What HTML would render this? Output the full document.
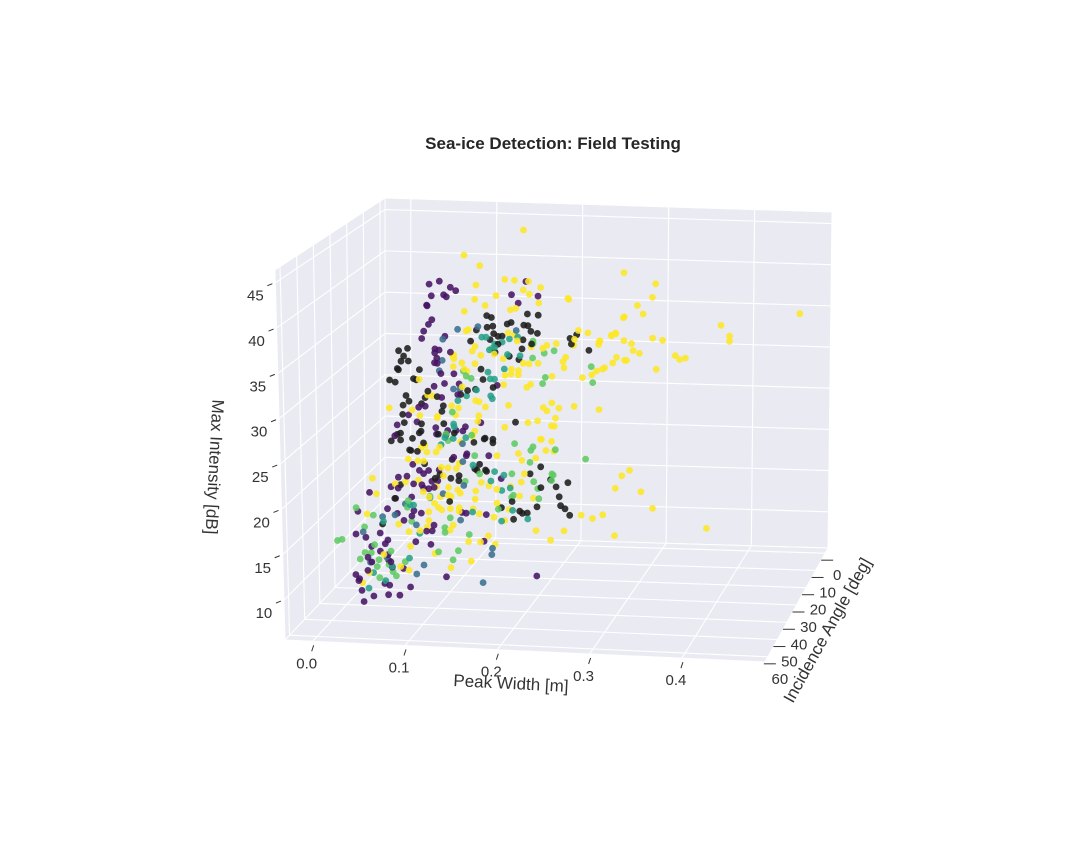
<!DOCTYPE html>
<html><head><meta charset="utf-8"><title>Sea-ice Detection: Field Testing</title>
<style>
html,body{margin:0;padding:0;background:#fff;}
svg{display:block;font-family:"Liberation Sans",Arial,sans-serif;}
</style></head>
<body>
<svg id="chart" width="1080" height="864" viewBox="0 0 1080 864" xmlns="http://www.w3.org/2000/svg">
<rect width="1080" height="864" fill="#ffffff"/>
<text x="553" y="149" text-anchor="middle" font-size="17" font-weight="bold" fill="#262626">Sea-ice Detection: Field Testing</text>
<g id="panes"></g>
<g id="grid"></g>
<g id="ticks"></g>
<g id="points"></g>
<text x="511" y="689" text-anchor="middle" font-size="17" fill="#333" transform="rotate(3 511 683)">Peak Width [m]</text>
<text x="827" y="636" text-anchor="middle" font-size="17" fill="#333" transform="rotate(-61 827 630)">Incidence Angle [deg]</text>
<text x="215" y="473" text-anchor="middle" font-size="17" fill="#333" transform="rotate(93 215 467)">Max Intensity [dB]</text>
</svg>
<script>
// axis tick values
const xTicks = [0.0, 0.1, 0.2, 0.3, 0.4];
const xTickLabels = ["0.0", "0.1", "0.2", "0.3", "0.4"];
const yTicks = [0, 10, 20, 30, 40, 50, 60];
const yTickLabels = ["0", "10", "20", "30", "40", "50", "60"];
const zTicks = [10, 15, 20, 25, 30, 35, 40, 45];
const zTickLabels = ["10", "15", "20", "25", "30", "35", "40", "45"];
// series: [peakWidth, incidenceAngle, maxIntensity]
const purple = [[.080,30,41.0],[.088,28,41.1],[.107,32,41.0],[.108,29,40.2],[.084,31,39.8],[.091,27,39.4],[.082,33,39.0],[.099,30,39.6],[.074,28,38.2],[.086,32,37.2],[.077,29,36.2],[.075,31,35.7],[.071,30,34.7],[.092,27,34.6],[.108,33,33.7],[.084,29,33.4],[.092,31,33.6],[.082,28,32.8],[.091,32,32.8],[.088,30,31.9],[.080,27,31.5],[.097,33,31.2],[.105,29,30.6],[.086,31,29.4],[.096,30,29.6],[.109,28,29.3],[.114,32,28.7],[.172,30,40.1],[.185,28,41.4],[.181,31,39.3],[.200,29,39.9],[.155,30,29.6],[.096,32,28.3],[.065,29,26.6],[.057,31,26.0],[.074,30,26.9],[.039,28,24.3],[.043,32,23.7],[.063,29,24.9],[.088,31,23.9],[.099,30,24.2],[.114,27,24.2],[.125,33,22.1],[.084,29,24.3],[.110,31,24.4],[.116,30,24.2],[.133,28,24.9],[.148,32,21.8],[.118,29,21.2],[.107,31,21.3],[.043,30,18.6],[.056,28,19.8],[.056,32,19.1],[.065,29,19.3],[.073,31,19.3],[.077,30,19.5],[.084,27,19.1],[.088,33,18.1],[.079,29,18.1],[.071,31,18.0],[.060,30,17.9],[.068,28,17.1],[.046,32,17.7],[.033,29,17.3],[.012,31,16.9],[.077,30,17.4],[.084,28,18.0],[.043,32,16.5],[.056,29,16.2],[.032,31,15.1],[.060,30,14.8],[.065,28,14.2],[.052,32,14.0],[.056,29,14.0],[.043,31,14.6],[.114,30,14.8],[.114,27,14.2],[.146,33,15.2],[.157,29,18.7],[.084,31,13.4],[.074,30,12.5],[.077,28,12.2],[.065,32,11.6],[.077,29,10.8],[.035,31,9.0],[.035,30,8.2],[.052,28,5.6],[.099,32,7.7],[.137,29,11.4],[.199,31,8.0],[-.003,30,14.5],[-.009,28,11.5],[.009,32,11.9],[.020,29,11.9],[.032,31,11.5],[.012,30,10.5],[.024,28,10.5],[.011,32,9.6],[.020,29,9.8],[.032,31,9.8],[.012,30,8.7],[.026,27,8.4],[.003,33,7.3],[-.008,29,7.0],[.009,31,7.9],[-.003,30,6.5],[-.003,28,5.0],[.006,32,4.5],[.012,29,4.6],[.032,31,5.2],[.043,30,5.0],[.023,28,5.9],[.035,32,6.5],[.046,29,7.9]];
const black = [[.144,30,37.6],[.146,28,37.1],[.154,32,36.7],[.150,29,35.4],[.158,31,35.4],[.161,30,35.3],[.168,28,36.6],[.170,32,37.0],[.188,29,37.8],[.187,31,36.8],[.190,30,36.6],[.197,27,37.4],[.198,33,36.4],[.199,29,35.6],[.186,31,35.1],[.194,30,34.5],[.180,28,33.6],[.172,32,33.3],[.178,29,32.5],[.158,31,34.5],[.153,30,33.4],[.129,28,35.6],[.129,32,34.9],[.146,29,34.7],[.146,31,36.4],[.137,30,31.4],[.136,28,29.9],[.125,32,29.2],[.129,29,28.9],[.152,31,29.5],[.114,30,28.4],[.091,28,26.7],[.096,32,26.7],[.086,29,27.9],[.079,31,28.8],[.074,30,27.9],[.065,27,26.7],[.061,33,27.9],[.051,29,27.9],[.051,31,27.1],[.045,30,33.2],[.047,28,32.3],[.051,32,32.3],[.054,29,31.9],[.045,31,31.3],[.055,30,33.5],[.041,28,30.7],[.038,32,30.1],[.039,29,29.4],[.063,31,30.2],[.068,30,31.1],[.061,28,29.6],[.240,32,35.6],[.243,29,35.6],[.240,31,34.8],[.258,30,34.0],[.172,28,25.1],[.143,32,23.7],[.148,29,22.8],[.108,31,24.1],[.097,30,23.7],[.125,28,22.6],[.075,32,23.0],[.068,29,24.7],[.061,31,23.3],[.046,30,23.7],[.047,28,24.6],[.039,32,23.1],[.047,29,25.7],[.044,31,23.7],[.046,30,22.9],[.062,27,23.3],[.074,33,24.5],[.093,29,24.8],[.090,31,23.9],[.056,30,21.8],[.054,28,21.4],[.068,32,22.0],[.071,29,20.1],[.086,31,18.8],[.102,30,18.7],[.108,28,18.7],[.114,32,18.8],[.102,29,20.7],[.136,31,20.6],[.129,30,19.9],[.139,28,19.3],[.144,32,23.8],[.148,29,23.2],[.133,31,19.9],[.141,30,19.8],[.042,28,17.4],[.042,32,16.5],[.088,29,18.9],[.102,31,16.2],[.203,30,20.4],[.188,28,19.2],[.223,32,18.5],[.232,29,18.5],[.225,31,17.2],[.225,30,16.0],[.227,28,15.3],[.238,32,15.3],[.197,29,15.6],[.189,31,15.2],[.179,30,15.2],[.179,28,14.6],[.175,32,14.6],[.169,29,16.1],[.160,31,15.7],[.203,30,18.0],[.211,28,18.6],[.028,32,13.5]];
const yellow = [[.186,30,47.6],[.116,28,44.2],[.140,32,43.6],[.163,29,41.7],[.177,31,41.9],[.191,30,41.7],[.129,28,40.8],[.134,32,39.7],[.153,29,39.8],[.144,31,38.9],[.119,30,38.0],[.182,28,40.4],[.195,32,40.5],[.203,29,40.9],[.204,31,39.4],[.235,30,39.9],[.295,28,42.8],[.336,32,42.2],[.328,29,40.2],[.314,31,39.5],[.319,30,38.4],[.295,28,37.7],[.291,32,36.4],[.282,29,35.6],[.271,31,35.2],[.269,30,34.7],[.293,27,34.8],[.310,33,35.4],[.328,29,35.5],[.342,31,35.6],[.406,30,37.4],[.413,28,35.9],[.418,32,35.9],[.493,29,38.9],[.356,31,33.9],[.366,30,33.5],[.357,28,33.0],[.336,32,32.4],[.306,29,34.0],[.316,31,34.0],[.298,30,33.0],[.286,28,33.0],[.260,32,36.3],[.245,29,36.1],[.223,31,34.8],[.211,30,34.4],[.229,28,32.8],[.233,32,32.2],[.265,29,31.5],[.252,31,31.0],[.273,30,31.9],[.120,28,35.6],[.134,32,34.3],[.105,29,32.8],[.120,31,31.5],[.152,30,33.2],[.168,28,31.2],[.182,32,31.2],[.169,29,38.2],[.178,31,38.7],[.168,30,35.7],[.172,28,35.2],[.181,32,35.1],[.192,29,34.0],[.208,31,34.2],[.229,30,32.6],[.238,28,34.2],[.245,32,35.5],[.119,29,35.6],[.129,31,33.6],[.137,30,33.0],[.127,28,31.7],[.110,32,32.8],[.114,29,31.9],[.107,31,33.0],[.106,30,31.6],[.159,28,32.4],[.167,32,31.1],[.169,29,30.8],[.186,31,32.4],[.191,30,32.2],[.198,28,32.0],[.182,32,31.7],[.215,29,30.7],[.194,31,30.0],[.188,30,29.5],[.159,28,29.4],[.264,32,31.5],[.274,29,31.9],[.286,31,32.8],[.300,30,33.0],[.294,28,37.6],[.291,32,36.3],[.282,29,35.7],[.272,31,35.3],[.236,30,39.8],[.118,28,30.8],[.119,32,29.6],[.129,29,27.6],[.136,31,27.8],[.077,30,28.2],[.079,28,27.8],[.071,32,30.3],[.032,29,26.4],[.061,31,26.6],[.068,30,25.8],[.084,28,25.3],[.091,32,26.1],[.102,29,26.9],[.113,31,27.0],[.108,30,26.0],[.131,28,25.7],[.136,32,25.7],[.140,29,26.9],[.169,31,27.5],[.163,30,24.8],[.186,28,25.1],[.203,32,26.0],[.209,29,26.7],[.208,31,27.4],[.216,30,27.8],[.221,28,26.9],[.223,32,26.4],[.214,29,25.0],[.220,31,25.3],[.241,30,27.5],[.266,28,26.9],[.207,32,23.9],[.214,29,23.2],[.075,31,22.6],[.069,30,22.1],[.110,28,22.6],[.093,32,22.6],[.125,29,23.5],[.077,31,21.8],[.065,30,20.6],[.051,28,20.4],[.075,32,20.9],[.084,29,21.5],[.093,31,20.1],[.099,30,19.9],[.105,28,19.5],[.097,32,19.3],[.110,29,20.3],[.131,31,24.4],[.154,30,21.5],[.175,28,21.5],[.185,32,21.4],[.196,29,21.2],[.186,31,19.7],[.209,30,22.3],[.215,28,21.9],[.206,32,23.9],[.012,29,18.2],[.041,31,18.0],[.051,30,18.1],[.062,28,18.0],[.074,32,17.4],[.084,29,17.5],[.079,31,16.6],[.090,30,16.5],[.096,28,17.3],[.102,32,17.1],[.108,29,17.2],[.114,31,17.2],[.102,30,16.6],[.133,28,18.0],[.133,32,17.7],[.143,29,17.8],[.155,31,17.8],[.169,30,18.0],[.178,28,18.2],[.182,32,17.3],[.193,29,16.6],[.155,31,16.2],[.129,30,16.4],[.080,28,15.4],[.080,32,15.1],[.086,29,15.1],[.093,31,15.2],[.101,30,15.2],[.108,28,15.0],[.114,32,15.3],[.125,29,15.1],[.135,31,14.9],[.150,30,14.4],[.164,28,15.0],[.080,32,14.1],[.041,29,13.0],[.009,31,14.4],[.018,30,16.6],[.051,28,12.0],[.070,32,12.9],[.073,29,12.8],[.102,31,12.9],[.104,30,13.3],[.118,28,11.1],[.127,32,9.6],[.133,29,11.3],[.145,31,12.4],[.151,30,11.3],[.159,28,13.7],[.200,32,13.4],[.212,29,11.8],[.230,31,13.3],[.248,30,15.0],[.258,28,14.3],[.275,32,15.5],[.284,29,12.6],[.288,31,18.4],[.294,30,19.7],[.300,28,20.0],[.318,32,18.3],[.327,29,15.9],[.390,31,14.2],[.101,30,8.4],[.080,28,9.6],[.057,32,8.3],[.054,29,10.5],[.046,31,8.5],[.009,30,7.5],[-.002,28,5.9],[.029,32,10.0]];
const green = [[.208,30,33.5],[.216,28,33.5],[.198,32,33.2],[.194,29,34.7],[.262,31,32.3],[.262,30,30.3],[.206,28,30.4],[.209,32,30.3],[.148,29,33.7],[.122,31,30.7],[.126,30,30.3],[.114,28,30.8],[.177,32,23.3],[.193,29,22.5],[.221,31,22.6],[.097,30,23.8],[.096,28,22.7],[.129,32,24.1],[.194,29,34.4],[.106,31,26.5],[.129,30,21.4],[.189,28,21.9],[.194,32,21.2],[.252,29,21.3],[.217,31,19.8],[.217,30,19.5],[.212,28,18.5],[.198,32,19.0],[.198,29,17.7],[.202,31,16.9],[.172,30,17.0],[.167,28,16.4],[.158,32,15.7],[.169,29,19.3],[.136,31,19.5],[.118,30,18.4],[.075,28,16.2],[.057,32,16.3],[.051,29,15.0],[.016,31,14.3],[-.005,30,14.9],[.054,28,13.2],[.104,32,14.5],[.108,29,10.2],[.105,31,9.5],[.122,30,12.3],[.084,28,9.8],[.098,32,12.8],[.093,29,12.8],[.006,31,12.9],[-.001,30,9.0],[.001,28,9.4],[-.023,32,11.4],[-.023,29,11.0],[.017,31,10.9],[.020,30,9.0],[.028,28,8.1],[.024,32,7.3],[.034,29,7.5],[.041,31,7.4],[.018,30,8.2],[.008,28,9.4],[.037,32,10.4],[.048,29,8.7]];
const blue = [[.134,30,36.3],[.108,28,35.6],[.098,32,35.0],[.092,29,32.1],[.092,31,31.2],[.106,30,29.0],[.110,28,28.7],[.180,32,36.3],[.114,29,20.5],[.118,31,18.1],[.093,30,16.9],[.047,28,15.2],[.042,32,14.6],[.061,29,13.0],[.114,31,14.1],[.148,30,10.8],[.144,28,9.7],[.140,32,7.2],[.069,29,8.4],[.064,31,7.7],[.029,30,9.3],[.007,28,8.3],[.006,32,12.5],[.023,29,13.8],[.117,31,22.9]];
const teal = [[.143,30,35.1],[.135,28,34.8],[.135,32,29.3],[.146,29,28.2],[.151,31,28.2],[.152,30,30.3],[.160,28,31.2],[.170,32,33.5],[.151,29,34.2],[.154,31,34.1],[.161,30,34.6],[.166,28,34.7],[.148,32,31.4],[.145,29,33.5],[.180,31,35.4],[.181,30,33.1],[.144,28,30.0],[.114,32,28.0],[.119,29,28.1],[.108,31,24.8],[.105,30,23.3],[.116,28,23.1],[.099,32,23.7],[.104,29,24.8],[.093,31,22.7],[.127,30,20.3],[.148,28,19.3],[.150,32,18.9],[.160,29,19.1],[.170,31,18.0],[.159,30,17.5],[.075,28,16.0],[.063,32,15.8],[.054,29,15.3],[.068,31,12.4],[.126,30,14.9],[.168,28,14.9],[.191,32,14.7],[.157,29,13.8],[.056,31,9.5],[.035,30,8.3],[.005,28,5.3],[.029,32,13.8],[.012,29,7.3],[.029,31,6.8]];

const XMIN=-0.03, XMAX=0.49, YMIN=-3, YMAX=63, ZMIN=5.6, ZMAX=46.4;
// projected cube corners [v: back/front][w: bottom/top][u: left/right]
const C = [
  [[[385,535],[828,548]], [[385,198],[832,212]]],
  [[[285,640],[765,662]], [[275,270],[760,287]]]
];
function lerp(a,b,t){return [a[0]+(b[0]-a[0])*t, a[1]+(b[1]-a[1])*t];}
function proj(x,y,z){
  const u=(x-XMIN)/(XMAX-XMIN), v=(y-YMIN)/(YMAX-YMIN), w=(z-ZMIN)/(ZMAX-ZMIN);
  const b0=lerp(C[0][0][0],C[0][0][1],u), t0=lerp(C[0][1][0],C[0][1][1],u);
  const b1=lerp(C[1][0][0],C[1][0][1],u), t1=lerp(C[1][1][0],C[1][1][1],u);
  const p0=lerp(b0,t0,w), p1=lerp(b1,t1,w);
  return lerp(p0,p1,v);
}
const NS="http://www.w3.org/2000/svg";
function mk(tag,attrs,parent){const e=document.createElementNS(NS,tag);for(const k in attrs)e.setAttribute(k,attrs[k]);parent.appendChild(e);return e;}
function poly(pts){return pts.map(p=>p[0].toFixed(1)+","+p[1].toFixed(1)).join(" ");}

const panes=document.getElementById('panes');
const paneDefs=[
  ['back-pane',[proj(XMIN,YMIN,ZMIN),proj(XMAX,YMIN,ZMIN),proj(XMAX,YMIN,ZMAX),proj(XMIN,YMIN,ZMAX)]],
  ['left-pane',[proj(XMIN,YMIN,ZMIN),proj(XMIN,YMAX,ZMIN),proj(XMIN,YMAX,ZMAX),proj(XMIN,YMIN,ZMAX)]],
  ['floor-pane',[proj(XMIN,YMIN,ZMIN),proj(XMAX,YMIN,ZMIN),proj(XMAX,YMAX,ZMIN),proj(XMIN,YMAX,ZMIN)]]
];
paneDefs.forEach(d=>{
  const e=mk('polygon',{points:poly(d[1]),fill:'#eaeaf2',stroke:'#ffffff','stroke-width':1},panes);
  
  
});

const grid=document.getElementById('grid');
function gl(a,b,name){
  const e=mk('line',{x1:a[0],y1:a[1],x2:b[0],y2:b[1],stroke:'#ffffff','stroke-width':1.1},grid);
  
  
}
xTicks.forEach(x=>{
  gl(proj(x,YMIN,ZMIN),proj(x,YMIN,ZMAX),'x-gridline-back');
  gl(proj(x,YMIN,ZMIN),proj(x,YMAX,ZMIN),'x-gridline-floor');
});
zTicks.forEach(z=>{
  gl(proj(XMIN,YMIN,z),proj(XMAX,YMIN,z),'z-gridline-back');
  gl(proj(XMIN,YMIN,z),proj(XMIN,YMAX,z),'z-gridline-left');
});
yTicks.forEach(y=>{
  gl(proj(XMIN,y,ZMIN),proj(XMAX,y,ZMIN),'y-gridline-floor');
  gl(proj(XMIN,y,ZMIN),proj(XMIN,y,ZMAX),'y-gridline-left');
});

const ticks=document.getElementById('ticks');
function tk(a,b,name){
  const e=mk('line',{x1:a[0],y1:a[1],x2:b[0],y2:b[1],stroke:'#333','stroke-width':1},ticks);
  
  
}
function lab(p,txt,name){
  const e=mk('text',{x:p[0],y:p[1],'text-anchor':'middle','font-size':15,fill:'#333'},ticks);
  e.textContent=txt;
  
  
}
xTicks.forEach((x,i)=>{
  const p=proj(x,YMAX,ZMIN);
  tk([p[0]+1,p[1]+4],[p[0]-1,p[1]+10],'x-tick');
  lab([p[0]-6,p[1]+27],xTickLabels[i],'x-tick-label');
});
zTicks.forEach((z,i)=>{
  const p=proj(XMIN,YMAX,z);
  tk([p[0]-3,p[1]+1],[p[0]-8,p[1]+3],'z-tick');
  lab([p[0]-20,p[1]+18],zTickLabels[i],'z-tick-label');
});
yTicks.forEach((y,i)=>{
  const p=proj(XMAX,y,ZMIN);
  tk([p[0]-4,p[1]+7],[p[0]+8,p[1]+7],'y-tick');
  lab([p[0]+12,p[1]+27],yTickLabels[i],'y-tick-label');
});

const pts=document.getElementById('points');
const series=[['purple',purple,'#471463'],['black',black,'#1c1c1c'],['yellow',yellow,'#fde725'],['green',green,'#5ec962'],['blue',blue,'#3b6e8e'],['teal',teal,'#27a088']];
const all=[];
series.forEach(s=>s[1].forEach(d=>all.push({name:s[0],col:s[2],x:d[0],y:d[1],z:d[2]})));
all.sort((a,b)=>a.y-b.y);
all.forEach(d=>{
  const p=proj(d.x,d.y,d.z);
  const c=mk('circle',{cx:p[0].toFixed(1),cy:p[1].toFixed(1),r:3.4,fill:d.col,'fill-opacity':0.88},pts);
  
  
});
</script>
</body></html>
